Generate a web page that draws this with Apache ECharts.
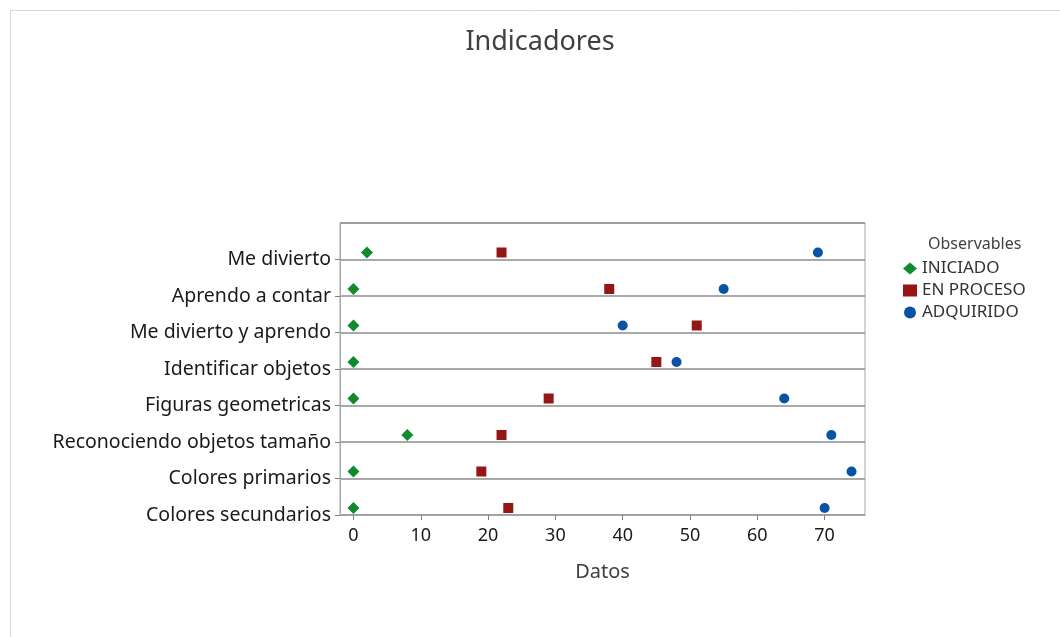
<!DOCTYPE html>
<html>
<head>
<meta charset="utf-8">
<script src="https://cdn.jsdelivr.net/npm/echarts@6/dist/echarts.min.js"></script>
<style>
html, body { margin: 0; padding: 0; background: #fff; }
#chart { width: 1060px; height: 637px; }
</style>
</head>
<body>
<div id="chart"></div>
<script>
// categories from bottom to top; the blank one keeps a gap under the top border
var categories = ['Colores secundarios', 'Colores primarios', 'Reconociendo objetos tamaño',
  'Figuras geometricas', 'Identificar objetos', 'Me divierto y aprendo',
  'Aprendo a contar', 'Me divierto', ''];
var iniciado  = [0, 0, 8, 0, 0, 0, 0, 2];
var enProceso = [23, 19, 22, 29, 45, 51, 38, 22];
var adquirido = [70, 74, 71, 64, 48, 40, 55, 69];

function pairs(vals) {
  var out = [];
  for (var i = 0; i < vals.length; i++) out.push([vals[i], categories[i]]);
  return out;
}

var font = 'Noto Sans';
var chart = echarts.init(document.getElementById('chart'));
var option = {
  backgroundColor: '#fff',
  animation: false,
  textStyle: { fontFamily: font },
  graphic: [{
    type: 'rect', left: 8, top: 8,
    shape: { width: 1100, height: 700 },
    style: { fill: 'none', stroke: '#d9d9d9', lineWidth: 1 },
    silent: true
  }],
  title: [{
    text: 'Indicadores',
    left: 535, top: 24, textAlign: 'center',
    textStyle: { fontSize: 27, fontWeight: 'normal', color: '#404040', fontFamily: font }
  }, {
    text: 'Observables',
    left: 923, top: 231,
    textStyle: { fontSize: 16, fontWeight: 'normal', color: '#404040', fontFamily: font }
  }],
  legend: {
    orient: 'vertical',
    left: 898, top: 255,
    itemGap: 5, itemWidth: 14, itemHeight: 12,
    textStyle: { fontSize: 17, color: '#333', fontFamily: font },
    data: ['INICIADO', 'EN PROCESO', 'ADQUIRIDO']
  },
  grid: {
    left: 340, right: 195, top: 223, bottom: 122,
    show: true, borderColor: '#a6a6a6', borderWidth: 1, containLabel: false
  },
  xAxis: {
    type: 'value',
    min: -2, max: 76, splitNumber: 8,
    name: 'Datos', nameLocation: 'middle', nameGap: 47,
    nameTextStyle: { fontSize: 20, color: '#404040', fontFamily: font },
    axisLine: { show: true, lineStyle: { color: '#a6a6a6' } },
    axisTick: { show: true, length: 5, lineStyle: { color: '#808080' } },
    axisLabel: { fontSize: 18, color: '#1a1a1a', margin: 12, showMinLabel: false, showMaxLabel: false },
    splitLine: { show: false }
  },
  yAxis: {
    type: 'category',
    data: categories,
    boundaryGap: false,
    axisLine: { show: true, onZero: false, lineStyle: { color: '#a6a6a6' } },
    axisTick: {
      show: true, length: 5, lineStyle: { color: '#808080' },
      interval: function (idx, val) { return val !== ''; }
    },
    axisLabel: { fontSize: 19.5, color: '#1a1a1a', margin: 9 },
    splitLine: { show: true, lineStyle: { color: '#8c8c8c', width: 1.5 } }
  },
  series: [{
    name: 'INICIADO', type: 'scatter',
    symbol: 'diamond', symbolSize: 12, symbolOffset: [0, -7],
    itemStyle: { color: '#0f8a2c', opacity: 1 },
    data: pairs(iniciado)
  }, {
    name: 'EN PROCESO', type: 'scatter',
    symbol: 'rect', symbolSize: 10, symbolOffset: [0, -7],
    itemStyle: { color: '#961515', opacity: 1 },
    data: pairs(enProceso)
  }, {
    name: 'ADQUIRIDO', type: 'scatter',
    symbol: 'circle', symbolSize: 10, symbolOffset: [0, -7],
    itemStyle: { color: '#0953a5', opacity: 1 },
    data: pairs(adquirido)
  }]
};
chart.setOption(option);
</script>
</body>
</html>
